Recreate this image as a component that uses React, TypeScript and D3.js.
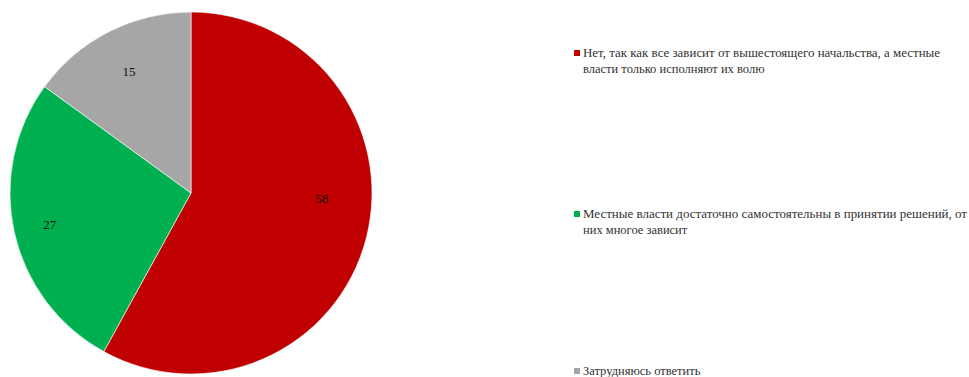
import React from "react";
import * as d3 from "d3";

const categories = [
  "Нет, так как все зависит от вышестоящего начальства, а местные власти только исполняют их волю",
  "Местные власти достаточно самостоятельны в принятии решений, от них многое зависит",
  "Затрудняюсь ответить",
];
const values = [58, 27, 15];
const colors = ["#C00000", "#00B050", "#A6A6A6"];
const legendLines = [
  ["Нет, так как все зависит от вышестоящего начальства, а местные", "власти только исполняют их волю"],
  ["Местные власти достаточно самостоятельны в принятии решений, от", "них многое зависит"],
  ["Затрудняюсь ответить"],
];
// label placement within slice (fraction of angular span) and radius ratio
const labelAngleFrac = [0.443, 0.5, 0.5];
const labelRadiusFrac = [0.725, 0.8, 0.755];

const W = 969;
const H = 377;
const cx = 191;
const cy = 193;
const R = 181;
const FONT = '"Liberation Serif", "Times New Roman", "DejaVu Serif", serif';

export default function App() {
  const pie = d3.pie<number>().value((d) => d).sort(null);
  const arcs = pie(values);
  const arcGen = d3.arc<d3.PieArcDatum<number>>().innerRadius(0).outerRadius(R);

  const legendX = 574;
  const textX = 583;
  const legendY = [57, 218, 375];
  const lineH = 16;
  const justifyW = [357, 384];

  return (
    <svg
      width={W}
      height={H}
      style={{ position: "absolute", left: 0, top: 0, background: "#fff", fontFamily: FONT }}
    >
      <g transform={`translate(${cx},${cy})`}>
        {arcs.map((a, i) => (
          <path key={i} d={arcGen(a) || ""} fill={colors[i]} stroke="#fff" strokeWidth={0.6} />
        ))}
        {arcs.map((a, i) => {
          const ang = a.startAngle + (a.endAngle - a.startAngle) * labelAngleFrac[i];
          const r = R * labelRadiusFrac[i];
          const x = Math.sin(ang) * r;
          const y = -Math.cos(ang) * r;
          return (
            <text
              key={i}
              x={x}
              y={y}
              textAnchor="middle"
              dominantBaseline="central"
              style={{ fontFamily: FONT, fontSize: 13 }}
              fill="#111"
            >
              {values[i]}
            </text>
          );
        })}
      </g>
      {categories.map((c, i) => (
        <g key={i}>
          <rect x={legendX} y={legendY[i] - 7} width={6} height={6} fill={colors[i]} />
          {legendLines[i].map((ln, j) => (
            <text
              key={j}
              x={textX}
              y={legendY[i] + j * lineH}
              style={{ fontFamily: FONT, fontSize: 12.5 }}
              fill="#333"
              {...(j === 0 && legendLines[i].length > 1
                ? { textLength: justifyW[i], lengthAdjust: "spacingAndGlyphs" }
                : {})}
            >
              {ln}
            </text>
          ))}
        </g>
      ))}
    </svg>
  );
}
